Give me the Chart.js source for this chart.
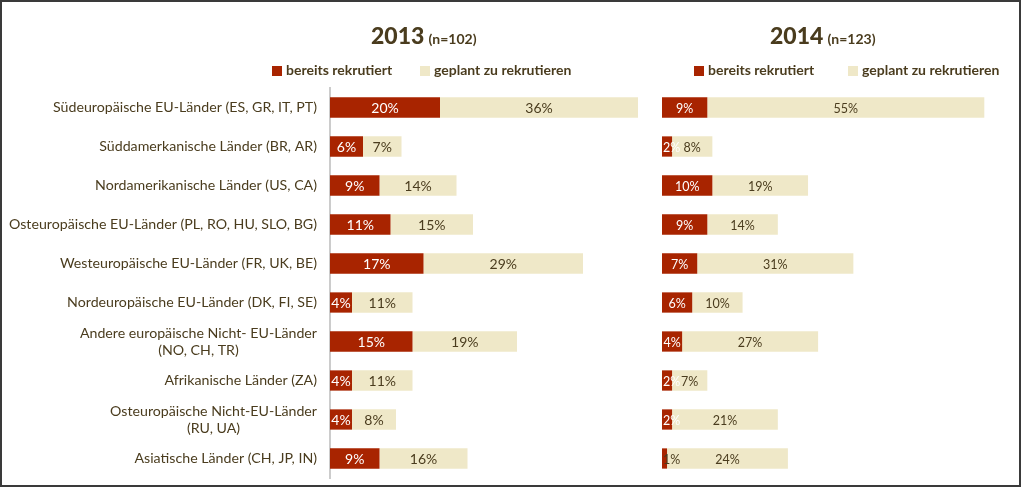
<!DOCTYPE html>
<html><head><meta charset="utf-8">
<script src="https://cdn.jsdelivr.net/npm/chart.js@4/dist/chart.umd.min.js"></script>
<style>
html,body{margin:0;padding:0;background:#fff;}
#frame{position:absolute;left:0;top:0;width:1021px;height:487px;box-sizing:border-box;border:2px solid #3a3a3a;}
.c{position:absolute;top:0;height:487px;}
.t{position:absolute;font-family:Lato,sans-serif;color:#4a3c1e;white-space:nowrap;}
.yr{font-weight:900;font-size:23px;}
.n{font-weight:700;font-size:14px;}
.lg{position:absolute;font-family:Lato,sans-serif;font-weight:700;font-size:14px;color:#4a3c1e;white-space:nowrap;}
.sq{display:inline-block;width:10px;height:10px;margin-right:4px;vertical-align:-1px;}
</style></head>
<body>
<div id="frame"></div>
<div class="c" style="left:0;width:649px;"><canvas id="c1" width="649" height="487"></canvas></div>
<div class="c" style="left:662px;width:350px;"><canvas id="c2" width="350" height="487"></canvas></div>
<div class="t" style="left:371px;top:21px;"><span class="yr">2013</span> <span class="n">(n=102)</span></div>
<div class="t" style="left:770px;top:21px;"><span class="yr">2014</span> <span class="n">(n=123)</span></div>
<div class="lg" style="left:272px;top:61px;"><span class="sq" style="background:#a82400"></span>bereits rekrutiert</div>
<div class="lg" style="left:420px;top:61px;"><span class="sq" style="background:#efe8c8"></span>geplant zu rekrutieren</div>
<div class="lg" style="left:694px;top:61px;"><span class="sq" style="background:#a82400"></span>bereits rekrutiert</div>
<div class="lg" style="left:848px;top:61px;"><span class="sq" style="background:#efe8c8"></span>geplant zu rekrutieren</div>
<script>
const categories = [
  ["Südeuropäische EU-Länder (ES, GR, IT, PT)"],
  ["Süddamerkanische Länder (BR, AR)"],
  ["Nordamerikanische Länder (US, CA)"],
  ["Osteuropäische EU-Länder (PL, RO, HU, SLO, BG)"],
  ["Westeuropäische EU-Länder (FR, UK, BE)"],
  ["Nordeuropäische EU-Länder (DK, FI, SE)"],
  ["Andere europäische Nicht- EU-Länder", "(NO, CH, TR)"],
  ["Afrikanische Länder (ZA)"],
  ["Osteuropäische Nicht-EU-Länder", "(RU, UA)"],
  ["Asiatische Länder (CH, JP, IN)"]
];
const seriesNames = ["bereits rekrutiert", "geplant zu rekrutieren"];
const recruited2013 = [20, 6, 9, 11, 17, 4, 15, 4, 4, 9];
const planned2013   = [36, 7, 14, 15, 29, 11, 19, 11, 8, 16];
const recruited2014 = [9, 2, 10, 9, 7, 6, 4, 2, 2, 1];
const planned2014   = [55, 8, 19, 14, 31, 10, 27, 7, 21, 24];

const RED = '#a82400', BEIGE = '#efe8c8', TXT = '#4a3c1e';

function valueLabels(fontSize){
  return {
    id: 'valueLabels',
    afterDatasetsDraw(chart){
      const ctx = chart.ctx;
      ctx.save();
      ctx.textBaseline = 'middle';
      ctx.font = fontSize + 'px Lato, sans-serif';
      chart.data.datasets.forEach((ds, di) => {
        const meta = chart.getDatasetMeta(di);
        meta.data.forEach((bar, i) => {
          const v = ds.data[i];
          const txt = v + '%';
          const bw = Math.abs(bar.x - bar.base);
          const tw = ctx.measureText(txt).width;
          ctx.fillStyle = di === 0 ? (v <= 1 ? TXT : '#ffffff') : TXT;
          if (tw + 2 > bw) {
            ctx.textAlign = 'left';
            ctx.fillText(txt, Math.min(bar.x, bar.base) + 1, bar.y + 1);
          } else {
            ctx.textAlign = 'center';
            ctx.fillText(txt, (bar.x + bar.base) / 2, bar.y + 1);
          }
        });
      });
      ctx.restore();
    }
  };
}

const catLabels = {
  id: 'catLabels',
  afterDraw(chart){
    const ctx = chart.ctx, y = chart.scales.y;
    ctx.save();
    ctx.font = '14.2px Lato, sans-serif';
    ctx.fillStyle = TXT;
    ctx.textAlign = 'center';
    ctx.textBaseline = 'middle';
    categories.forEach((lines, i) => {
      const cy = y.getPixelForValue(i);
      const w = Math.max(...lines.map(l => ctx.measureText(l).width));
      const cx = 317 - w / 2;
      const lh = 17;
      lines.forEach((l, k) => {
        ctx.fillText(l, cx, cy + (k - (lines.length - 1) / 2) * lh);
      });
    });
    ctx.restore();
  }
};

function makeChart(id, rec, plan, max, showAxis, fs){
  const plugins = [valueLabels(fs)];
  if (showAxis) plugins.push(catLabels);
  return new Chart(document.getElementById(id), {
    type: 'bar',
    data: {
      labels: categories.map(c => c.join(' ')),
      datasets: [
        {label: seriesNames[0], data: rec, backgroundColor: RED, borderWidth: 0},
        {label: seriesNames[1], data: plan, backgroundColor: BEIGE, borderWidth: 0}
      ]
    },
    options: {
      indexAxis: 'y',
      responsive: false,
      animation: false,
      devicePixelRatio: 1,
      layout: {padding: {top: 88, bottom: 9, left: 0, right: 0}},
      datasets: {bar: {categoryPercentage: 1, barPercentage: 0.52}},
      plugins: {legend: {display: false}, tooltip: {enabled: false}, title: {display: false}},
      scales: {
        x: {stacked: true, min: 0, max: max, display: false},
        y: {
          stacked: true,
          display: true,
          grid: {display: false},
          border: {display: showAxis, color: '#cccccc', width: 2},
          ticks: {display: false},
          afterFit(s){ s.width = showAxis ? 330 : 0; }
        }
      }
    },
    plugins: plugins
  });
}

makeChart('c1', recruited2013, planned2013, 58, true, 14);
makeChart('c2', recruited2014, planned2014, 69.5, false, 12.5);
</script>
</body></html>
